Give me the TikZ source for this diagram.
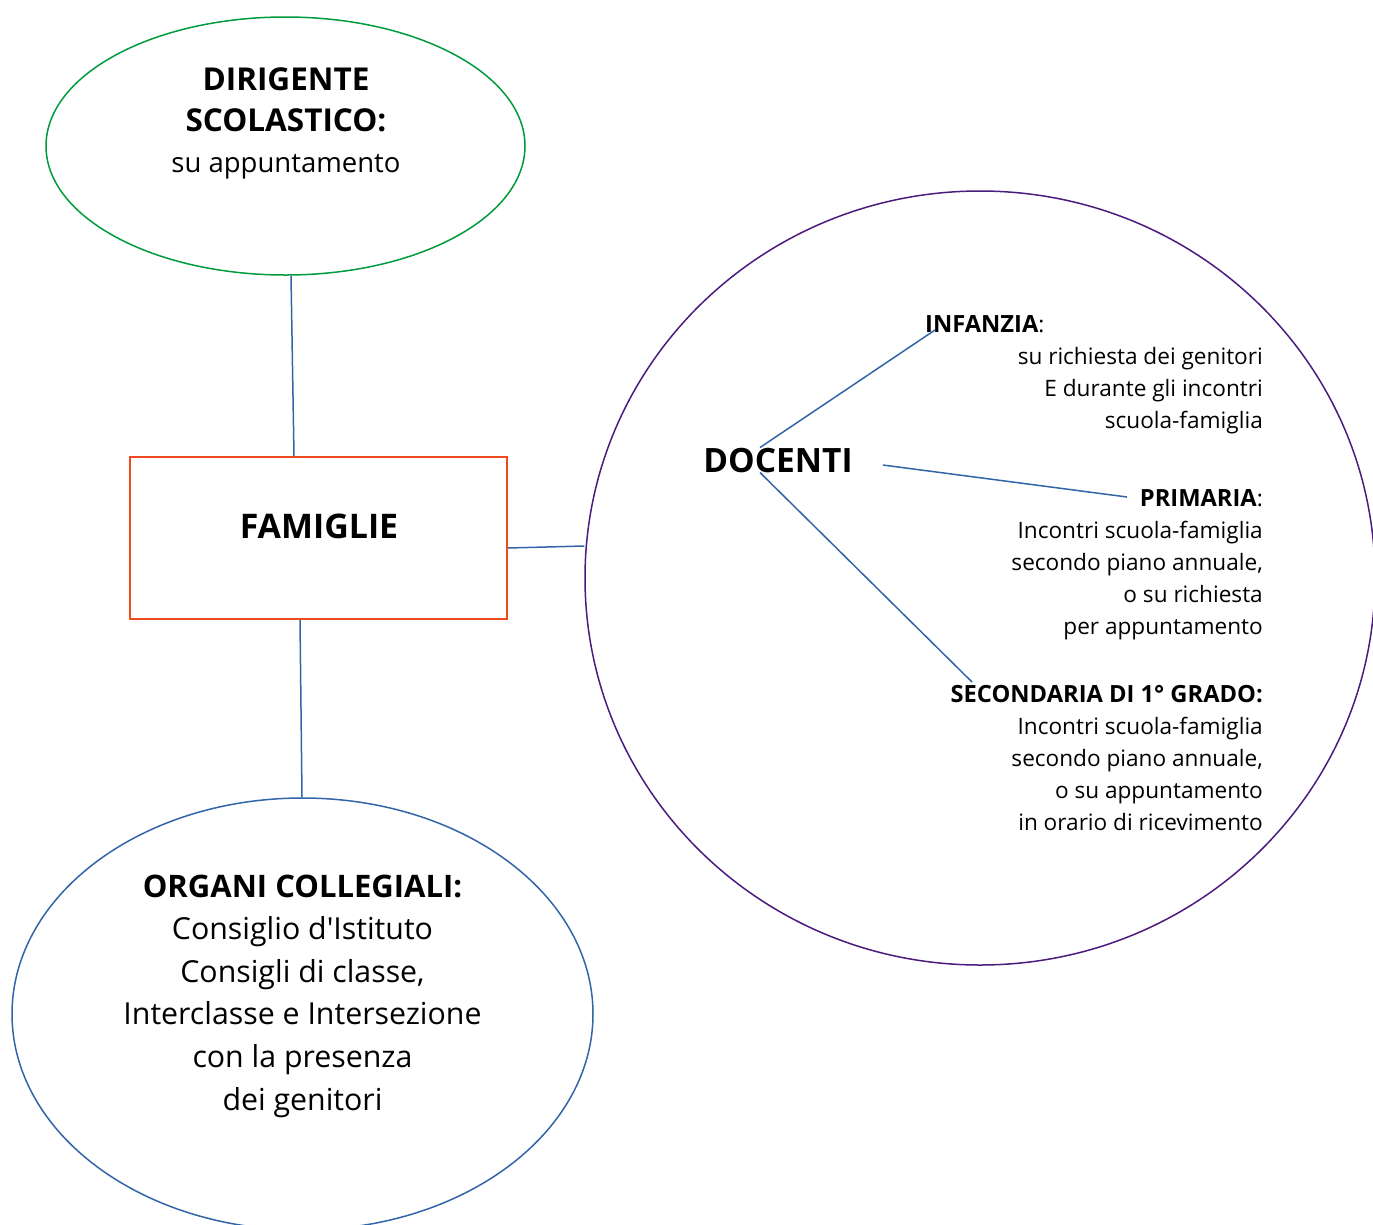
\documentclass[tikz,border=0pt]{standalone}
\usepackage{fontspec}
\setmainfont{Open Sans}
\usetikzlibrary{shapes.geometric,calc}
\definecolor{cgreen}{RGB}{0,155,60}
\definecolor{corange}{RGB}{240,75,30}
\definecolor{cblue}{RGB}{50,100,168}
\definecolor{cpurple}{RGB}{75,28,125}
\newcommand{\smb}[1]{{\fontsize{23.7}{32}\selectfont\bfseries #1}}
\tikzset{
  shapeline/.style={line width=1.5pt},
  conn/.style={draw=cblue,line width=1.5pt},
  small/.style={font=\fontsize{22.6}{32}\selectfont,align=right,inner sep=0pt},
}
\begin{document}
\begin{tikzpicture}[x=1pt,y=-1pt]
\useasboundingbox (0,0) rectangle (1373,1224);
% shapes
\node[ellipse,draw=cgreen,shapeline,minimum width=479,minimum height=258,inner sep=0] (dir) at (285.5,146) {};
\node[rectangle,draw=corange,shapeline,minimum width=377,minimum height=162,inner sep=0] (fam) at (318.5,538) {};
\node[ellipse,draw=cblue,shapeline,minimum width=581,minimum height=432,inner sep=0] (org) at (302.5,1014) {};
\node[ellipse,draw=cpurple,shapeline,minimum width=790,minimum height=774,inner sep=0] (doc) at (980,578) {};
% texts (anchor base = baseline of the last line)
\node[font=\fontsize{27.5}{41}\selectfont,align=center,inner sep=0,anchor=base] (dirt) at (286,172)
  {{\fontsize{31.5}{41}\selectfont\bfseries DIRIGENTE}\\{\fontsize{31.5}{41}\selectfont\bfseries SCOLASTICO:}\\su appuntamento};
\node[font=\fontsize{33.9}{40}\selectfont\bfseries,inner sep=0,anchor=base] (famt) at (319,538) {FAMIGLIE};
\node[font=\fontsize{30.3}{42.6}\selectfont,align=center,inner sep=0,anchor=base] (orgt) at (302.5,1110)
  {{\fontsize{31}{42.6}\selectfont\bfseries ORGANI COLLEGIALI:}\\Consiglio d\textquotesingle Istituto\\Consigli di classe,\\Interclasse e Intersezione\\con la presenza\\dei genitori};
\node[font=\fontsize{33.5}{40}\selectfont\bfseries,inner sep=0,anchor=base] (doct) at (778,472) {DOCENTI};
\node[small,anchor=base west] (infh) at (925,332) {\smb{INFANZIA}:};
\node[small,anchor=base east] (inf) at (1263,428)
  {su richiesta dei genitori\\E durante gli incontri\\scuola-famiglia};
\node[small,anchor=base east] (pri) at (1263,634)
  {\smb{PRIMARIA}:\\Incontri scuola-famiglia\\secondo piano annuale,\\o su richiesta\\per appuntamento};
\node[small,anchor=base east] (sec) at (1263,830)
  {\smb{SECONDARIA DI 1° GRADO:}\\Incontri scuola-famiglia\\secondo piano annuale,\\o su appuntamento\\in orario di ricevimento};
% connector endpoints
\coordinate (infend) at (935,330);
\coordinate (priend) at (1127,497);
\coordinate (secend) at (972,682);
% connectors
\draw[conn] (dir.south -| 291,0) -- (fam.north -| 294,0);
\draw[conn] (fam.south -| 300,0) -- (org.north -| 302,0);
\draw[conn] (fam.east |- 0,548) -- (doc.west |- 0,546);
\draw[conn] (doct.north -| 760,0) -- (infend);
\draw[conn] (doct.east |- 0,465) ++(30,0) -- (priend);
\draw[conn] (doct.south -| 760,0) -- (secend);
\end{tikzpicture}
\end{document}
